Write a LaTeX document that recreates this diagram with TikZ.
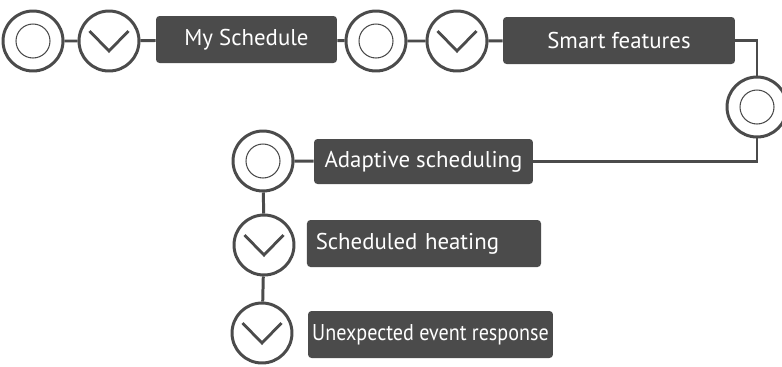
\documentclass[tikz,border=0pt]{standalone}
\usepackage{fontspec}
\setmainfont{PT Sans}
\newfontfamily\narrowsans[FakeStretch=0.88]{PT Sans}
\definecolor{ink}{HTML}{4B4B4B}
\tikzset{
  ring/.style={circle, draw=ink, line width=1.7pt, minimum size=1.2cm, inner sep=0pt},
  dotring/.style={ring, path picture={\draw[ink, line width=0.6pt] (path picture bounding box.center) circle (0.34cm);}},
  chevring/.style={ring, path picture={\draw[ink, line width=1.6pt] ([shift={(-0.39cm,0.2cm)}]path picture bounding box.center) -- ([shift={(0cm,-0.2cm)}]path picture bounding box.center) -- ([shift={(0.39cm,0.2cm)}]path picture bounding box.center);}},
  tag/.style={fill=ink, rounded corners=2pt, text=white, font=\fontsize{13}{15}\selectfont, minimum height=0.94cm, inner sep=2pt},
  wire/.style={ink, line width=1.7pt}
}
\begin{document}
\begin{tikzpicture}[x=0.02cm, y=-0.02cm]
            \useasboundingbox (0,0) rectangle (782,366);

            \node[dotring] (c1) at (33,41) {};
            \node[chevring] (c2) at (109,41) {};
            \node[tag, minimum width=3.62cm] (mysched) at (246.5,39.5) {My Schedule};
            \node[dotring] (c3) at (376,41) {};
            \node[chevring] (c4) at (457,41) {};
            \node[tag, minimum width=4.64cm] (smart) at (619,40.5) {Smart features};

            \node[dotring] (c5) at (757,107) {};

            \node[dotring] (c6) at (263,161) {};
            \node[tag, minimum width=4.38cm, minimum height=0.9cm] (adapt) at (423.5,161.5) {Adaptive scheduling};
            \node[chevring] (c7) at (264,245) {};
            \node[tag, text width=4.33cm, align=left, inner sep=5pt] (heat) at (424,243.5) {Scheduled heating};
            \node[chevring] (c8) at (262,333) {};
            \node[tag, minimum width=4.9cm, font=\narrowsans\fontsize{13}{15}\selectfont] (unexp) at (430.5,334.5) {Unexpected event response};

            \draw[wire] (c1)--(c2)--(mysched)--(c3)--(c4)--(smart);
            \draw[wire] (smart.east) -| (c5.north);
            \draw[wire] (c5.south) |- (adapt.east);
            \draw[wire] (c6)--(adapt);
            \draw[wire] (c6)--(c7)--(c8);
        \end{tikzpicture}
\end{document}
